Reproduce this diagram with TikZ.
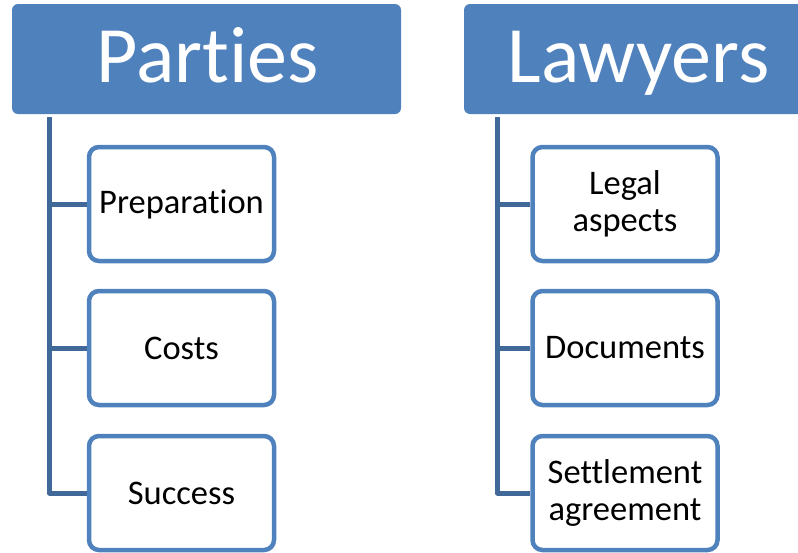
\documentclass[tikz,border=0pt]{standalone}
\usepackage{fontspec}
\setmainfont[RawFeature=-liga]{Carlito}
\usepackage{tikz}
\definecolor{hdrblue}{RGB}{79,129,189}
\definecolor{linkblue}{RGB}{64,104,153}
\tikzset{
  header/.style={rectangle, rounded corners=6pt, fill=hdrblue,
    minimum width=389pt, minimum height=110pt, inner sep=0pt},
  hdrtext/.style={text=white, inner sep=0pt, anchor=base,
    font=\fontsize{80}{96}\selectfont},
  item/.style={rectangle, rounded corners=10pt, draw=hdrblue, line width=4.5pt,
    fill=white, minimum width=185pt, minimum height=114pt, inner sep=0pt,
    align=center, font=\fontsize{34.5}{37}\selectfont},
  link/.style={draw=linkblue, line width=5pt, line join=round}
}

\begin{document}
\begin{tikzpicture}[x=1pt,y=-1pt]
		\useasboundingbox (0,0) rectangle (798,552);
		\clip (0,0) rectangle (798,552);
		%%  Parties  %%%%%%%%
		\node[header] (parties) at (206.5,59) {};
		\node[hdrtext] (partext) at (207.5,82) {Parties};
		\coordinate (ptop) at (49.5,117);
		\node[item] (prep) at (181.5,204) {Preparation};
		\node[item] (costs) at (181.5,348) {Costs};
		\node[item] (success) at (181.5,493) {Success};
		\draw[link] (ptop) |- (success.west);
		\draw[link] (ptop |- prep.west) -- (prep.west);
		\draw[link] (ptop |- costs.west) -- (costs.west);
		%%  Lawyers  %%%%%%%%
		\node[header, minimum width=370pt] (lawyers) at (649,59) {};
		\node[hdrtext] (lawtext) at (638.5,82) {Lawyers};
		\coordinate (ltop) at (497.5,117);
		\node[item] (legal) at (625,204) {Legal\\aspects};
		\node[item] (docs) at (625,348) {Documents};
		\node[item] (settle) at (625,493) {Settlement\\agreement};
		\draw[link] (ltop) |- (settle.west);
		\draw[link] (ltop |- legal.west) -- (legal.west);
		\draw[link] (ltop |- docs.west) -- (docs.west);
		%%%%%%%%%%%%%%%
\end{tikzpicture}
\end{document}
